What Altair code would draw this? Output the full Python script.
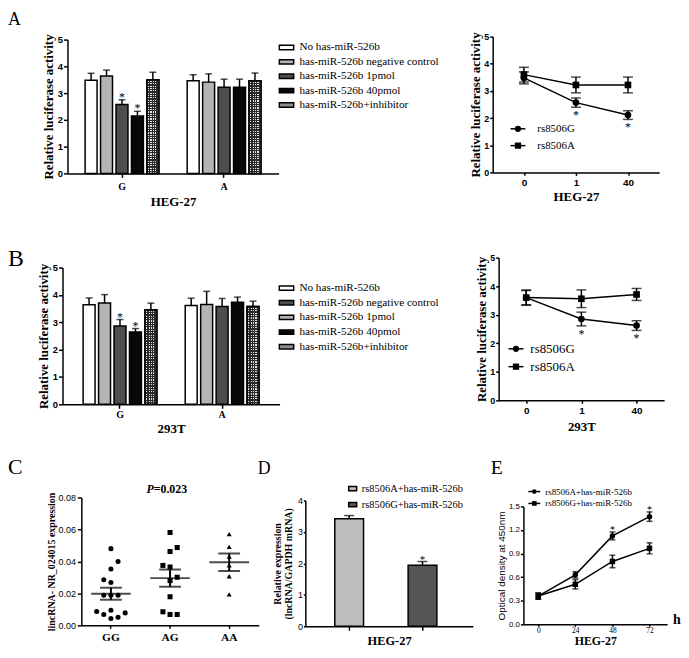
import altair as alt
import pandas as pd

SERIF = "Liberation Serif"
SANS = "Liberation Sans"

# ---------------- data ----------------
treatments = ["No has-miR-526b", "has-miR-526b negative control", "has-miR-526b 1pmol",
              "has-miR-526b 40pmol", "has-miR-526b+inhibitor"]
alleles = ["G", "A"]

# Panel A (HEG-27) bars, left to right
a_bar_order = treatments
a_G = [3.48, 3.64, 2.57, 2.14, 3.50]
a_G_err = [0.26, 0.22, 0.18, 0.18, 0.28]
a_G_sig = ["", "", "*", "*", ""]
a_A = [3.46, 3.41, 3.22, 3.22, 3.46]
a_A_err = [0.23, 0.31, 0.30, 0.30, 0.29]
a_A_sig = ["", "", "", "", ""]
a_colors = ["#ffffff", "#b4b4b4", "#4e4e4e", "#080808", "#8f8f8f"]

# Panel B (293T) bars, left to right
b_bar_order = [treatments[0], treatments[2], treatments[1], treatments[3], treatments[4]]
b_G = [3.64, 3.70, 2.86, 2.64, 3.46]
b_G_err = [0.25, 0.31, 0.24, 0.13, 0.24]
b_G_sig = ["", "", "*", "*", ""]
b_A = [3.61, 3.65, 3.58, 3.73, 3.58]
b_A_err = [0.27, 0.48, 0.29, 0.19, 0.19]
b_A_sig = ["", "", "", "", ""]
b_colors = ["#ffffff", "#4e4e4e", "#b4b4b4", "#080808", "#8f8f8f"]

# Line panels
doses = ["0", "1", "40"]
series = ["rs8506G", "rs8506A"]
la_G = [3.48, 2.57, 2.11]
la_G_err = [0.22, 0.17, 0.16]
la_G_sig = ["", "*", "*"]
la_A = [3.60, 3.22, 3.22]
la_A_err = [0.27, 0.29, 0.29]
la_A_sig = ["", "", ""]
lb_G = [3.60, 2.85, 2.62]
lb_G_err = [0.25, 0.24, 0.17]
lb_G_sig = ["", "*", "*"]
lb_A = [3.60, 3.56, 3.71]
lb_A_err = [0.27, 0.31, 0.21]
lb_A_sig = ["", "", ""]

# Panel C
genotypes = ["GG", "AG", "AA"]
c_GG = [0.0480, 0.0400, 0.0353, 0.0285, 0.0268, 0.0188, 0.0188, 0.0188, 0.0087, 0.0095, 0.0068, 0.0078, 0.0043, 0.0050]
c_GG_slot = [0, 1, 0, -1, 0, -1, 0, 1, -2, 0, -1, 2, 0, 1]
c_AG = [0.0581, 0.0462, 0.0487, 0.0375, 0.0365, 0.0280, 0.0301, 0.0179, 0.0085, 0.0068, 0.0068]
c_AG_slot = [0, 0, 1, -1, 0, 0, 1, 0, -1, 0, 1]
c_AA = [0.0571, 0.0491, 0.0431, 0.0375, 0.0307, 0.0194]
c_AA_slot = [0, 0, 0, 0, 0, 0]
c_p_label = "P"
c_p_value = "=0.023"

# Panel D
d_groups = ["rs8506A+has-miR-526b", "rs8506G+has-miR-526b"]
d_mean = [3.42, 1.94]
d_err = [0.10, 0.12]
d_sig = ["", "*"]
d_colors = ["#bdbdbd", "#555555"]

# Panel E
e_hours = [0, 24, 48, 72]
e_series = ["rs8506A+has-miR-526b", "rs8506G+has-miR-526b"]
e_A = [0.36, 0.63, 1.125, 1.37]
e_A_err = [0.04, 0.04, 0.05, 0.06]
e_A_sig = ["", "", "*", "*"]
e_G = [0.36, 0.51, 0.80, 0.967]
e_G_err = [0.04, 0.06, 0.08, 0.07]
e_G_sig = ["", "", "", ""]

# ---------------- helpers ----------------
AX = dict(domainColor="black", domainWidth=1.5, tickColor="black", tickWidth=1.5,
          tickSize=4, labelColor="black", titleColor="black", grid=False)


def ax(**kw):
    d = dict(AX)
    d.update(kw)
    return alt.Axis(**d)


def stripes(n, c1, c2, vertical):
    stops = []
    for i in range(n):
        a, b, c = i / n, (i + 0.5) / n, (i + 1) / n
        stops += [alt.GradientStop(offset=a, color=c1), alt.GradientStop(offset=b, color=c1),
                  alt.GradientStop(offset=b, color=c2), alt.GradientStop(offset=c, color=c2)]
    if vertical:
        return alt.LinearGradient(gradient="linear", stops=stops, x1=0, x2=1, y1=0, y2=0)
    return alt.LinearGradient(gradient="linear", stops=stops, x1=0, x2=0, y1=0, y2=1)


CLEAR = "rgba(0,0,0,0)"
V_STRIPES = stripes(5, "#2a2a2a", CLEAR, True)
H_STRIPES = stripes(40, "#2a2a2a", CLEAR, False)


def letter_layer(letter, lx, ly, size):
    return alt.Chart(pd.DataFrame({"L": [letter]})).mark_text(
        font=SERIF, fontSize=size, align="left", baseline="alphabetic", color="black"
    ).encode(text="L:N", x=alt.value(lx), y=alt.value(ly))


def edge(w, top, bottom, letter, ly, size):
    guide = alt.Chart(pd.DataFrame({"L": [""]})).mark_rule(opacity=0, strokeOpacity=0).encode(
        x=alt.value(0), y=alt.value(top), y2=alt.value(bottom))
    return alt.layer(guide, letter_layer(letter, 0, ly, size)).properties(width=w, height=10)


def gap(w):
    return alt.Chart(pd.DataFrame({"L": [""]})).mark_text().encode(text="L:N").properties(width=w, height=10)


def bar_df(order, G, Ge, Gs, A, Ae, As):
    rows = []
    for allele, vals, errs, sigs in (("G", G, Ge, Gs), ("A", A, Ae, As)):
        for t, v, e, s in zip(order, vals, errs, sigs):
            rows.append({"allele": allele, "treat": t, "mean": v, "hi": v + e, "sig": s})
    return pd.DataFrame(rows)


def bar_panel(df, order, colors, width, po, height, top, xtitle, lab_pad, tit_pad,
              legx, legy, rowpad):
    ys = alt.Scale(domain=[0, 5], range=[height, top], nice=False)
    yax = ax(values=[0, 1, 2, 3, 4, 5], title="Relative luciferase activity",
             titleFont=SERIF, titleFontSize=13, titleFontWeight="bold", titlePadding=2,
             labelFont=SANS, labelFontSize=9.5, labelFontWeight="bold", labelPadding=1)
    xax = ax(title=xtitle, labelAngle=0, labelFont=SERIF, labelFontSize=10,
             labelFontWeight="bold", labelPadding=lab_pad, titleFont=SERIF,
             titleFontSize=13, titleFontWeight="bold", titlePadding=tit_pad)
    X = alt.X("allele:N", scale=alt.Scale(domain=alleles, paddingInner=0.22, paddingOuter=po), axis=xax)
    XO = alt.XOffset("treat:N", scale=alt.Scale(domain=order, paddingInner=0.226, paddingOuter=0.19))

    def Y(f):
        return alt.Y(f, scale=ys, axis=yax)

    base = alt.Chart(df)
    bars = base.mark_bar(stroke="black", strokeWidth=1.5).encode(
        x=X, xOffset=XO, y=Y("mean:Q"),
        color=alt.Color("treat:N", scale=alt.Scale(domain=treatments, range=colors),
                        legend=alt.Legend(orient="none", legendX=legx, legendY=legy, title=None,
                                          symbolType="M-1,-0.3H1V0.3H-1Z", symbolSize=210,
                                          symbolStrokeColor="black", symbolStrokeWidth=1.5,
                                          symbolOpacity=1, labelFont=SERIF, labelFontSize=11.3,
                                          labelColor="black", labelOffset=5, labelLimit=300,
                                          rowPadding=rowpad, padding=0)))
    inh = base.transform_filter(alt.datum.treat == treatments[4])
    t0 = inh.mark_bar(fill="#e4e4e4", strokeOpacity=0).encode(x=X, xOffset=XO, y=Y("mean:Q"))
    t1 = inh.mark_bar(fill=V_STRIPES, strokeOpacity=0).encode(x=X, xOffset=XO, y=Y("mean:Q"))
    t2 = inh.mark_bar(fill=H_STRIPES, strokeOpacity=0).encode(x=X, xOffset=XO, y=Y("mean:Q"))
    t3 = inh.mark_bar(fillOpacity=0, stroke="black", strokeWidth=1.5).encode(x=X, xOffset=XO, y=Y("mean:Q"))
    rule = base.mark_rule(color="black", strokeWidth=1.5).encode(
        x=X, xOffset=XO, y=Y("mean:Q"), y2="hi:Q")
    cap = base.mark_tick(color="black", orient="horizontal", size=7, thickness=1.5).encode(
        x=X, xOffset=XO, y=Y("hi:Q"))
    star = base.mark_text(font=SERIF, fontSize=12, color="black", baseline="alphabetic", dy=1).encode(
        x=X, xOffset=XO, y=Y("hi:Q"), text="sig:N")
    return alt.layer(bars, t0, t1, t2, t3, rule, cap, star).properties(width=width, height=height)


def legend_layers(labels, shape_scale, rows_y, rule_x, pt_x, txt_x, font_size, pt_size):
    ldf = pd.DataFrame({"series": labels})
    ly = alt.Y("series:N", scale=alt.Scale(type="point", domain=labels, range=rows_y, padding=0), axis=None)
    b = alt.Chart(ldf)
    r = b.mark_rule(color="black", strokeWidth=1.5).encode(
        x=alt.value(rule_x[0]), x2=alt.value(rule_x[1]), y=ly)
    p = b.mark_point(filled=True, color="black", size=pt_size, opacity=1).encode(
        x=alt.value(pt_x), y=ly, shape=alt.Shape("series:N", scale=shape_scale, legend=None))
    t = b.mark_text(align="left", baseline="middle", font=SERIF, fontSize=font_size,
                    color="black").encode(x=alt.value(txt_x), y=ly, text="series:N")
    return alt.layer(r, p, t)


def line_df(names, xs, G, Ge, Gs, A, Ae, As):
    rows = []
    for s, vals, errs, sigs in ((names[0], G, Ge, Gs), (names[1], A, Ae, As)):
        for i, (d, v, e, sg) in enumerate(zip(xs, vals, errs, sigs)):
            rows.append(dict(series=s, dose=d, idx=i, v=v, lo=v - e, hi=v + e, sig=sg))
    return pd.DataFrame(rows)


def line_panel(df, width, height, pad, xtitle, xtp, leg):
    xs = alt.Scale(type="point", domain=doses, padding=pad)
    ys = alt.Scale(domain=[0, 5], nice=False)
    yax = ax(values=[0, 1, 2, 3, 4, 5], title="Relative luciferase activity",
             titleFont=SERIF, titleFontSize=13, titleFontWeight="bold", titlePadding=1,
             labelFont=SANS, labelFontSize=9, labelFontWeight="bold", labelPadding=1, tickSize=3)
    xax = ax(title=xtitle, labelAngle=0, labelFont=SANS, labelFontSize=10, labelFontWeight="bold",
             labelPadding=2, titleFont=SERIF, titleFontSize=13, titleFontWeight="bold",
             titlePadding=xtp, tickSize=3)
    X = alt.X("dose:N", scale=xs, axis=xax)
    shp = alt.Scale(domain=series, range=["circle", "square"])

    def Y(f):
        return alt.Y(f, scale=ys, axis=yax)

    base = alt.Chart(df)
    line = base.mark_line(color="black", strokeWidth=1.5).encode(
        x=X, y=Y("v:Q"), detail="series:N", order="idx:Q")
    rule = base.mark_rule(color="black", strokeWidth=1.5).encode(x=X, y=Y("lo:Q"), y2="hi:Q")
    cap_lo = base.mark_tick(color="black", orient="horizontal", size=10, thickness=1.5).encode(x=X, y=Y("lo:Q"))
    cap_hi = base.mark_tick(color="black", orient="horizontal", size=10, thickness=1.5).encode(x=X, y=Y("hi:Q"))
    pts = base.mark_point(filled=True, color="black", size=45, opacity=1).encode(
        x=X, y=Y("v:Q"), shape=alt.Shape("series:N", scale=shp, legend=None))
    star = base.mark_text(font=SERIF, fontSize=12, color="black", baseline="alphabetic", dy=12).encode(
        x=X, y=Y("lo:Q"), text="sig:N")
    plot = alt.layer(line, rule, cap_lo, cap_hi, pts, star)
    lg = legend_layers(series, shp, leg["rows"], leg["rule"], leg["pt"], leg["txt"], leg["font"], 40)
    return alt.layer(plot, lg).resolve_scale(y="independent").properties(width=width, height=height)


# ---------------- panels ----------------
barA = bar_panel(bar_df(a_bar_order, a_G, a_G_err, a_G_sig, a_A, a_A_err, a_A_sig),
                 a_bar_order, a_colors, 213, 0.144, 138, 3, "HEG-27", 4, 4, 213, 3, 0.5)
barB = bar_panel(bar_df(b_bar_order, b_G, b_G_err, b_G_sig, b_A, b_A_err, b_A_sig),
                 b_bar_order, b_colors, 219, 0.173, 148, 10, "293T", 1, 3, 218, 22.7, 0.8)

lineA = line_panel(line_df(series, doses, la_G, la_G_err, la_G_sig, la_A, la_A_err, la_A_sig),
                   168, 137, 0.6, "HEG-27", 3,
                   dict(rows=[93, 110], rule=(18, 33), pt=25.5, txt=45, font=11))
lineB = line_panel(line_df(series, doses, lb_G, lb_G_err, lb_G_sig, lb_A, lb_A_err, lb_A_sig),
                   167, 144, 0.5, "293T", 5,
                   dict(rows=[92, 110], rule=(10, 25), pt=17.5, txt=32, font=13))

# Panel C
c_rows = []
for g, vals, slots in (("GG", c_GG, c_GG_slot), ("AG", c_AG, c_AG_slot), ("AA", c_AA, c_AA_slot)):
    for v, s in zip(vals, slots):
        c_rows.append({"geno": g, "v": v, "slot": s})
c_df = pd.DataFrame(c_rows)
c_ys = alt.Scale(domain=[0, 0.08], range=[138, 9], nice=False)
c_yax = ax(values=[0, 0.02, 0.04, 0.06, 0.08], format=".2f", title="lincRNA- NR_024015 expression",
           titleFont=SERIF, titleFontSize=10, titleFontWeight="bold", titlePadding=1.5,
           labelFont=SANS, labelFontSize=9, labelPadding=2)
c_xax = ax(title=None, labelAngle=0, labelFont=SERIF, labelFontSize=11.5, labelFontWeight="bold",
           labelPadding=3, tickSize=3)
cX = alt.X("geno:N", scale=alt.Scale(domain=genotypes, paddingInner=0, paddingOuter=0), axis=c_xax)


def cY(f):
    return alt.Y(f, scale=c_ys, axis=c_yax)


c_base = alt.Chart(c_df)
c_pts = c_base.mark_point(filled=True, color="black", size=26, opacity=1).encode(
    x=cX, xOffset=alt.XOffset("slot:Q", scale=alt.Scale(domain=[-4.15, 4.15])), y=cY("v:Q"),
    shape=alt.Shape("geno:N", scale=alt.Scale(domain=genotypes, range=["circle", "square", "triangle-up"]), legend=None))
c_stats = c_base.transform_aggregate(m="mean(v)", se="stderr(v)", groupby=["geno"]).transform_calculate(
    lo="datum.m - datum.se", hi="datum.m + datum.se")
c_mean = c_stats.mark_tick(color="black", orient="horizontal", size=40, thickness=2).encode(x=cX, y=cY("m:Q"))
c_rule = c_stats.mark_rule(color="black", strokeWidth=2).encode(x=cX, y=cY("lo:Q"), y2="hi:Q")
c_lo = c_stats.mark_tick(color="black", orient="horizontal", size=22, thickness=2).encode(x=cX, y=cY("lo:Q"))
c_hi = c_stats.mark_tick(color="black", orient="horizontal", size=22, thickness=2).encode(x=cX, y=cY("hi:Q"))
c_pdf = pd.DataFrame({"a": [c_p_label], "b": [c_p_value]})
c_p1 = alt.Chart(c_pdf).mark_text(font=SERIF, fontSize=12, fontWeight="bold", fontStyle="italic",
                                  align="right", baseline="middle", color="black").encode(
    text="a:N", x=alt.value(73), y=alt.value(0))
c_p2 = alt.Chart(c_pdf).mark_text(font=SERIF, fontSize=12, fontWeight="bold",
                                  align="left", baseline="middle", color="black").encode(
    text="b:N", x=alt.value(73), y=alt.value(0))
panelC = alt.layer(c_pts, c_mean, c_rule, c_lo, c_hi, c_p1, c_p2).properties(width=179, height=138)

# Panel D
d_df = pd.DataFrame({"grp": d_groups, "mean": d_mean, "hi": [m + e for m, e in zip(d_mean, d_err)], "sig": d_sig})
d_ys = alt.Scale(domain=[0, 4], range=[139, 12], nice=False)
d_yax = ax(values=[0, 1, 2, 3, 4], title=["Relative expression", "(lncRNA/GAPDH mRNA)"],
           titleFont=SERIF, titleFontSize=10, titleFontWeight="bold", titlePadding=4, titleLineHeight=11,
           labelFont=SANS, labelFontSize=9, labelPadding=1, tickSize=2)
d_xax = ax(title="HEG-27", labels=False, titleFont=SERIF, titleFontSize=12.5, titleFontWeight="bold",
           titleY=18, titleBaseline="alphabetic", tickSize=4)
dX = alt.X("grp:N", scale=alt.Scale(domain=d_groups, paddingInner=0.608, paddingOuter=0.446, align=0.45), axis=d_xax)


def dY(f):
    return alt.Y(f, scale=d_ys, axis=d_yax)


d_base = alt.Chart(d_df)
d_bars = d_base.mark_bar(stroke="black", strokeWidth=1.5).encode(
    x=dX, y=dY("mean:Q"),
    color=alt.Color("grp:N", scale=alt.Scale(domain=d_groups, range=d_colors),
                    legend=alt.Legend(orient="none", legendX=42.5, legendY=-5.25, title=None,
                                      symbolType="M-1,-0.55H1V0.55H-1Z", symbolSize=64,
                                      symbolStrokeColor="black", symbolStrokeWidth=1.5, symbolOpacity=1,
                                      labelFont=SERIF, labelFontSize=10.5, labelColor="black",
                                      labelOffset=4, labelLimit=300, rowPadding=5.2, padding=0)))
d_rule = d_base.mark_rule(color="black", strokeWidth=1.5).encode(x=dX, y=dY("mean:Q"), y2="hi:Q")
d_cap = d_base.mark_tick(color="black", orient="horizontal", size=10, thickness=1.5).encode(x=dX, y=dY("hi:Q"))
d_star = d_base.mark_text(font=SERIF, fontSize=11, color="black", baseline="alphabetic", dy=1).encode(
    x=dX, y=dY("hi:Q"), text="sig:N")
panelD = alt.layer(d_bars, d_rule, d_cap, d_star, letter_layer("D", -48, -15, 18)).properties(width=169, height=139)

# Panel E
e_df = line_df(e_series, e_hours, e_A, e_A_err, e_A_sig, e_G, e_G_err, e_G_sig)
e_xs = alt.Scale(domain=[-9.6, 83.4], nice=False, zero=False)
e_ys = alt.Scale(domain=[0, 1.5], range=[137, 18], nice=False)
e_yax = ax(values=[0, 0.3, 0.6, 0.9, 1.2, 1.5], format=".1f", title="Optical density at 450nm",
           titleFont=SANS, titleFontSize=10, titleFontWeight="normal", titlePadding=2,
           labelFont=SANS, labelFontSize=8, labelPadding=1, tickSize=3)
e_xax = ax(values=e_hours, title="HEG-27", labelFont=SERIF, labelFontSize=7.5, labelPadding=0,
           titleFont=SERIF, titleFontSize=12, titleFontWeight="bold", titleY=20,
           titleBaseline="alphabetic", tickSize=2)
eX = alt.X("dose:Q", scale=e_xs, axis=e_xax)
e_shp = alt.Scale(domain=e_series, range=["circle", "square"])


def eY(f):
    return alt.Y(f, scale=e_ys, axis=e_yax)


e_base = alt.Chart(e_df)
e_line = e_base.mark_line(color="black", strokeWidth=1.5).encode(x=eX, y=eY("v:Q"), detail="series:N", order="idx:Q")
e_rule = e_base.mark_rule(color="black", strokeWidth=1.5).encode(x=eX, y=eY("lo:Q"), y2="hi:Q")
e_clo = e_base.mark_tick(color="black", orient="horizontal", size=6, thickness=1.5).encode(x=eX, y=eY("lo:Q"))
e_chi = e_base.mark_tick(color="black", orient="horizontal", size=6, thickness=1.5).encode(x=eX, y=eY("hi:Q"))
e_pts = e_base.mark_point(filled=True, color="black", size=30, opacity=1).encode(
    x=eX, y=eY("v:Q"), shape=alt.Shape("series:N", scale=e_shp, legend=None))
e_star = e_base.mark_text(font=SERIF, fontSize=10, color="black", baseline="alphabetic", dy=1).encode(
    x=eX, y=eY("hi:Q"), text="sig:N")
e_h = alt.Chart(pd.DataFrame({"u": ["h"]})).mark_text(
    font=SERIF, fontSize=14, fontWeight="bold", align="left", baseline="alphabetic", color="black"
).encode(text="u:N", x=alt.value(151), y=alt.value(137))
e_plot = alt.layer(e_line, e_rule, e_clo, e_chi, e_pts, e_star, e_h, letter_layer("E", -33, -15, 20))
e_leg = legend_layers(e_series, e_shp, [3, 15], (5, 17), 11, 22, 9, 22)
panelE = alt.layer(e_plot, e_leg).resolve_scale(y="independent").properties(width=145, height=137)

# ---------------- layout ----------------
RES = dict(color="independent", shape="independent", x="independent", y="independent", xOffset="independent")


def row(*views):
    return alt.hconcat(*views, spacing=0, bounds="flush").resolve_scale(**RES).resolve_legend(
        color="independent", shape="independent")


row1 = row(edge(60, -26, 206, "A", -12, 18), barA, gap(216), lineA)
row2 = row(edge(55, -17, 198, "B", 8, 24), barB, gap(221), lineB)
row3 = row(edge(74, -35, 150, "C", -15, 22), panelC, gap(47), panelD, gap(51), panelE)

chart = alt.vconcat(row1, row2, row3, spacing=0, padding=0, background="white").resolve_scale(
    **RES).resolve_legend(color="independent", shape="independent").configure_view(stroke=None)

chart.save("out.html", embed_options={"renderer": "svg", "actions": False})
